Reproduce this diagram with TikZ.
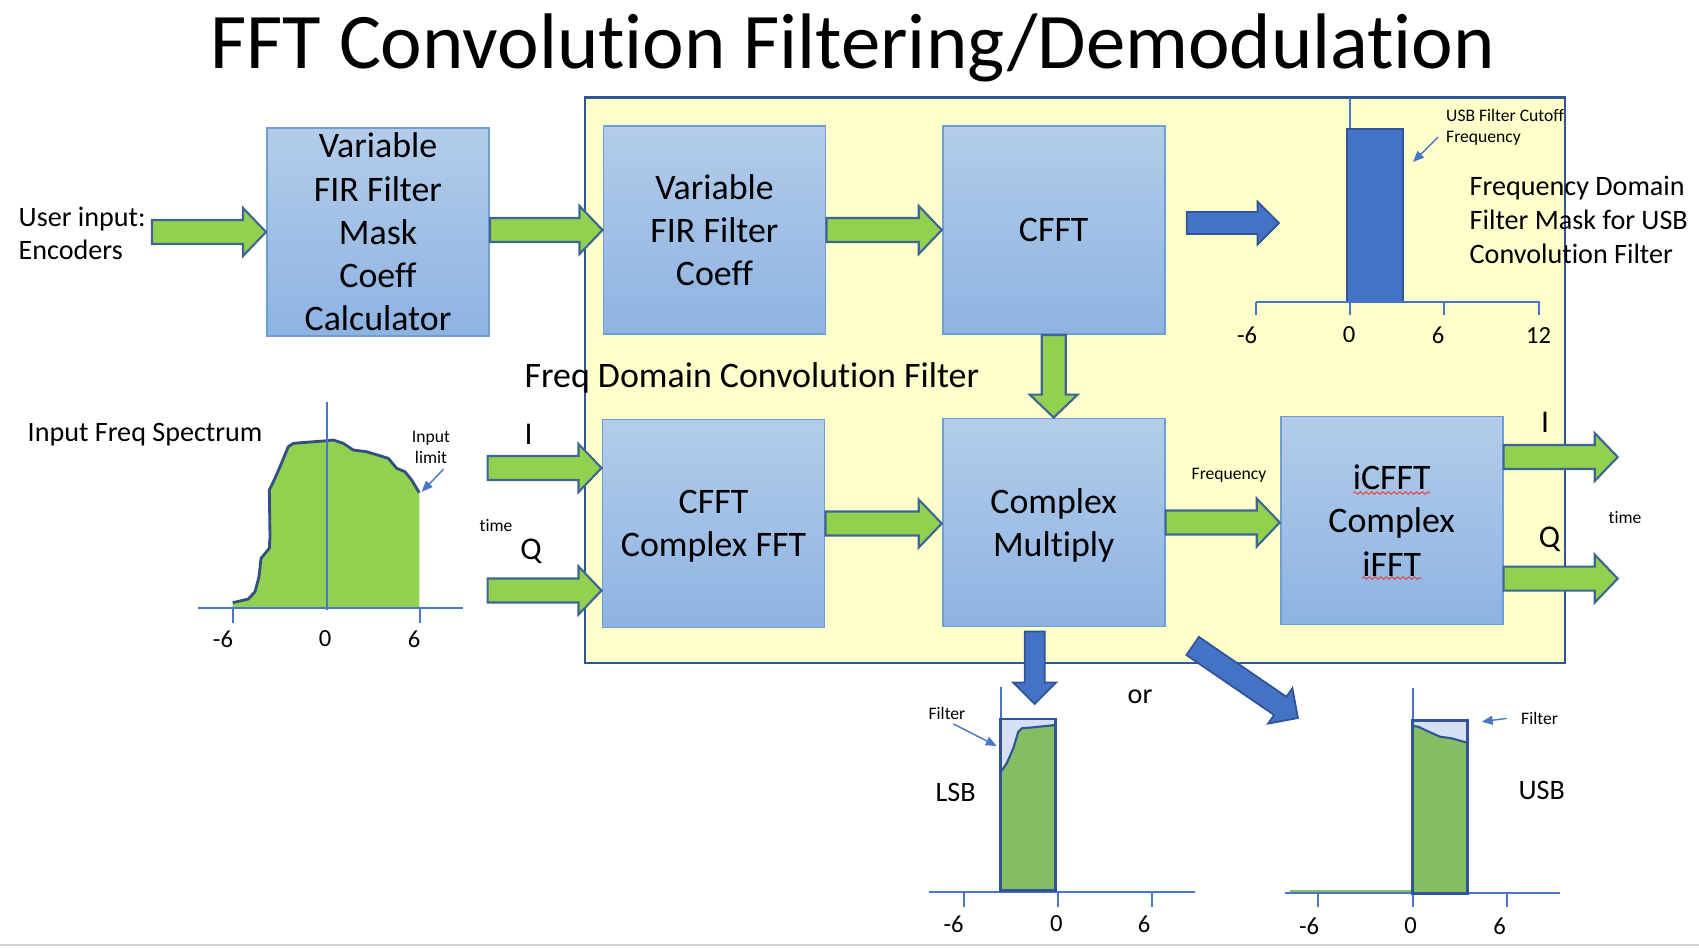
\documentclass[tikz,border=0pt]{standalone}
\usepackage{fontspec}
\setmainfont{Carlito}[Ligatures=NoCommon]
\usepackage{xcolor}
\usetikzlibrary{calc,arrows.meta,decorations.pathmorphing}

\definecolor{panel}{HTML}{FFFFCC}
\definecolor{paneledge}{HTML}{2F5597}
\definecolor{boxtop}{HTML}{B3CCEA}
\definecolor{boxbot}{HTML}{8DB3E2}
\definecolor{boxedge}{HTML}{6F9ED4}
\definecolor{arrgreen}{HTML}{92D050}
\definecolor{arredge}{HTML}{3F6592}
\definecolor{arrblue}{HTML}{4472C4}
\definecolor{axisblue}{HTML}{4A76C6}
\definecolor{specline}{HTML}{334F7F}
\definecolor{bandgreen}{HTML}{84BD63}
\definecolor{masklight}{HTML}{D6E0F2}
\definecolor{squig}{HTML}{E04848}

\tikzset{
  fat shaft/.store in=\fatshaft, fat wing/.store in=\fatwing, fat head/.store in=\fathead,
  fat shaft=0.12cm, fat wing=0.24cm, fat head=0.23cm,
  fat/.style={to path={let \p1=(\tikztostart), \p2=(\tikztotarget), \n1={atan2(\y2-\y1,\x2-\x1)} in
    ($(\p1)+(\n1+90:\fatshaft)$) -- ($(\p2)+(\n1+180:\fathead)+(\n1+90:\fatshaft)$)
    -- ($(\p2)+(\n1+180:\fathead)+(\n1+90:\fatwing)$) -- (\p2)
    -- ($(\p2)+(\n1+180:\fathead)+(\n1-90:\fatwing)$) -- ($(\p2)+(\n1+180:\fathead)+(\n1-90:\fatshaft)$)
    -- ($(\p1)+(\n1-90:\fatshaft)$) -- cycle}},
  greenarrow/.style={fat, fill=arrgreen, draw=arredge, line width=0.6pt},
  bluearrow/.style={fat, fat shaft=0.11cm, fat wing=0.215cm, fat head=0.215cm, fill=arrblue, draw=paneledge, line width=0.5pt},
  fftbox/.style={draw=boxedge, line width=0.5pt, top color=boxtop, bottom color=boxbot,
    minimum width=2.22cm, minimum height=2.08cm, align=center, inner sep=0pt, text depth=0pt,
    font=\fontsize{10.2}{12.3}\selectfont},
  boxfont/.style={inner sep=0pt, font=\fontsize{10.2}{12.3}\selectfont},
  lbl/.style={inner sep=0pt, font=\fontsize{8}{9.6}\selectfont},
  iq/.style={inner sep=0pt, font=\fontsize{9}{11}\selectfont},
  tiny/.style={inner sep=0pt, font=\fontsize{5}{6}\selectfont},
  ticklbl/.style={inner sep=0pt, font=\fontsize{7}{8}\selectfont},
  axisline/.style={draw=axisblue, line width=0.5pt},
  note/.style={draw=axisblue, line width=0.4pt, -{Triangle[length=0.11cm, width=0.09cm]}},
  squiggle/.style={draw=squig, line width=0.3pt, decorate, decoration={snake, amplitude=0.35pt, segment length=1.6pt}}
}

\begin{document}
\begin{tikzpicture}[x=0.01cm, y=-0.01cm]
\useasboundingbox (0,0) rectangle (1699,947);
\draw[gray!35, line width=0.6pt] (0,945) -- (1699,945);

\node[anchor=base, inner sep=0pt, font=\fontsize{22.4}{27}\selectfont] (title) at (853,68) {FFT Convolution Filtering/Demodulation};

\draw[draw=paneledge, fill=panel, line width=0.8pt] (585,97.5) rectangle (1565,663);

\node[fftbox] (mask) at (378,232) {Variable\\FIR Filter\\Mask\\Coeff\\Calculator};
\node[fftbox] (varfir) at (714.5,230) {Variable\\FIR Filter\\Coeff};
\node[fftbox] (cfft) at (1053.7,230) {CFFT};
\node[fftbox] (cfftc) at (713.5,523.5) {CFFT\\Complex FFT};
\node[fftbox] (cmul) at (1053.7,522.5) {Complex\\Multiply};
\node[fftbox] (icfft) at (1391.7,520.5) {iCFFT\\Complex\\iFFT};
\draw[squiggle] (1353,493) -- (1430,493);
\draw[squiggle] (1362,578) -- (1421,578);

\coordinate (ui) at (152,232);
\coordinate (iin) at (487.6,468);
\coordinate (qin) at (487.6,590.5);
\coordinate (iout) at (1617.7,457);
\coordinate (qout) at (1617.7,578.6);
\coordinate (mplot) at (1279,223);
\coordinate (mstart) at ([xshift=0.21cm, yshift=0.07cm]cfft.east);
\coordinate (lsbin) at (1034.7,704);
\coordinate (usbin) at (1298,718);

\draw[greenarrow] (ui) to (mask.west);
\draw[greenarrow] (mask.east |- varfir.west) to (varfir.west);
\draw[greenarrow] (varfir.east) to (cfft.west);
\draw[greenarrow] (cfft.south) to (cmul.north);
\draw[greenarrow] (iin) to (cfftc.west |- iin);
\draw[greenarrow] (qin) to (cfftc.west |- qin);
\draw[greenarrow] (cfftc.east) to (cmul.west |- cfftc.east);
\draw[greenarrow] (cmul.east) to (icfft.west |- cmul.east);
\draw[greenarrow] (icfft.east |- iout) to (iout);
\draw[greenarrow] (icfft.east |- qout) to (qout);
\draw[bluearrow] (mstart) to (mplot);
\draw[bluearrow, fat shaft=0.1cm] ([xshift=-0.19cm, yshift=-0.04cm]cmul.south) to (lsbin);
\draw[bluearrow] ([xshift=0.27cm, yshift=-0.185cm]cmul.south east) to (usbin);

\node[lbl, anchor=west, align=left] (user) at (18,233.5) {User input:\\Encoders};
\node[lbl, anchor=west] (spec) at (27,435) {Input Freq Spectrum};
\node[tiny, align=center] (inlim) at (431,447) {Input\\limit};
\node[tiny] (tleft) at (496,525.5) {time};
\node[tiny] (tright) at (1625,517) {time};
\node[iq] (ilbl) at (528.7,434.5) {I};
\node[iq] (qlbl) at (531,551.5) {Q};
\node[iq] (ilbr) at (1545,422.6) {I};
\node[iq] (qlbr) at (1549.4,539.5) {Q};
\node[boxfont, anchor=west] (fdcf) at (524,378) {Freq Domain Convolution Filter};
\node[tiny] (freq) at (1229,475) {Frequency};
\node[tiny, anchor=west, align=left] (cutoff) at (1445.5,127) {USB Filter Cutoff\\Frequency};
\node[inner sep=0pt, anchor=west, align=left, font=\fontsize{8}{9.56}\selectfont] (maskdesc) at (1469,220) {Frequency Domain\\Filter Mask for USB\\Convolution Filter};
\node[lbl] (orlbl) at (1140,697) {or};
\node[lbl] (lsb) at (955.6,792) {LSB};
\node[lbl] (usb) at (1541.8,790) {USB};
\node[tiny] (lsbf) at (947,713.5) {Filter};
\node[tiny] (usbf) at (1539.6,718.4) {Filter};

% input spectrum
\fill[arrgreen] (232.7,602.7) -- (248.3,599) -- (255,591.7) -- (259,576.7) -- (261,558.3) -- (269.3,548.3) -- (270,536.7) -- (269.3,490) -- (271.7,485) -- (275,478.3) -- (280,466.7) -- (288.3,446.7) -- (293.3,443.3) -- (326.7,440.7) -- (333.3,440) -- (343.3,443.3) -- (353.3,450) -- (366.7,451.7) -- (388.3,458.3) -- (396.7,468.3) -- (405,471.7) -- (411.7,480) -- (419.3,492.7) -- (419.3,607.7) -- (232.7,607.7) -- cycle;
\draw[specline, line width=0.8pt, line join=round] (232.7,602.7) -- (248.3,599) -- (255,591.7) -- (259,576.7) -- (261,558.3) -- (269.3,548.3) -- (270,536.7) -- (269.3,490) -- (271.7,485) -- (275,478.3) -- (280,466.7) -- (288.3,446.7) -- (293.3,443.3) -- (326.7,440.7) -- (333.3,440) -- (343.3,443.3) -- (353.3,450) -- (366.7,451.7) -- (388.3,458.3) -- (396.7,468.3) -- (405,471.7) -- (411.7,480) -- (419.3,492.7);
\draw[axisline] (198,607.7) -- (463,607.7);
\draw[axisline] (326.7,401.7) -- (326.7,610);
\foreach \x in {232.7,420} \draw[axisline] (\x,607.7) -- (\x,622.7);
\foreach \x/\t in {223/-6, 325/0, 414/6} \node[ticklbl] at (\x,639) {\t};
\coordinate (limtip) at (421.7,491.7);
\draw[note] ([shift={(-7,5)}]inlim.south east) -- (limtip);

% filter mask
\draw[axisline] (1350,97.5) -- (1350,302);
\draw[fill=arrblue, draw=paneledge, line width=0.8pt] (1347,129) rectangle (1403,302);
\draw[axisline] (1256,302) -- (1540,302);
\foreach \x in {1256,1350,1444,1539} \draw[axisline] (\x,302) -- (\x,315);
\foreach \x/\t in {1247/-6, 1349/0, 1438/6, 1538.6/12} \node[ticklbl] at (\x,335) {\t};
\coordinate (cuttip) at (1413,162);
\draw[note] ([shift={(-7.5,10)}]cutoff.west) -- (cuttip);

% LSB result
\draw[axisline] (929,891.7) -- (1195,891.7);
\foreach \x in {964.3,1058.3,1152.3} \draw[axisline] (\x,891.7) -- (\x,906.7);
\draw[axisline] (1000.7,686.7) -- (1000.7,891.7);
\fill[masklight] (1000.7,719) rectangle (1055.3,890.7);
\fill[bandgreen] (1001,771.7) -- (1006.7,763.3) -- (1013.3,748.3) -- (1018.3,731.7) -- (1021.7,728.3) -- (1033.3,727.3) -- (1055.3,725) -- (1055.3,890.7) -- (1000.7,890.7) -- cycle;
\draw[paneledge, line width=0.6pt, line join=round] (1001,771.7) -- (1006.7,763.3) -- (1013.3,748.3) -- (1018.3,731.7) -- (1021.7,728.3) -- (1033.3,727.3) -- (1055.3,725);
\draw[paneledge, line width=0.8pt] (1000.7,719) rectangle (1055.3,890.7);
\foreach \x/\t in {953.5/-6, 1056.4/0, 1144.2/6} \node[ticklbl] at (\x,924) {\t};
\coordinate (lsbtip) at (996.7,746);
\draw[note] ([shift={(6.3,3.5)}]lsbf.south) -- (lsbtip);

% USB result
\draw[bandgreen, line width=1pt] (1290,892) -- (1412,892);
\draw[axisline] (1285,893.3) -- (1560,893.3);
\foreach \x in {1318.3,1412.7,1506.7} \draw[axisline] (\x,893.3) -- (\x,906.7);
\draw[axisline] (1412.7,688.3) -- (1412.7,893.3);
\fill[masklight] (1412.3,720.7) rectangle (1467.3,893.3);
\fill[bandgreen] (1412.7,726) -- (1418.3,726.7) -- (1426.7,730.7) -- (1440,736.7) -- (1451.7,738.3) -- (1467.3,742.7) -- (1467.3,893.3) -- (1412.3,893.3) -- cycle;
\draw[paneledge, line width=0.6pt, line join=round] (1412.7,726) -- (1418.3,726.7) -- (1426.7,730.7) -- (1440,736.7) -- (1451.7,738.3) -- (1467.3,742.7);
\draw[paneledge, line width=0.8pt] (1412.3,720.7) rectangle (1467.3,893.3);
\foreach \x/\t in {1309/-6, 1410.7/0, 1499.6/6} \node[ticklbl] at (\x,926) {\t};
\coordinate (usbtip) at (1481.7,721.7);
\draw[note] ([shift={(-14,0)}]usbf.west) -- (usbtip);
\end{tikzpicture}
\end{document}
